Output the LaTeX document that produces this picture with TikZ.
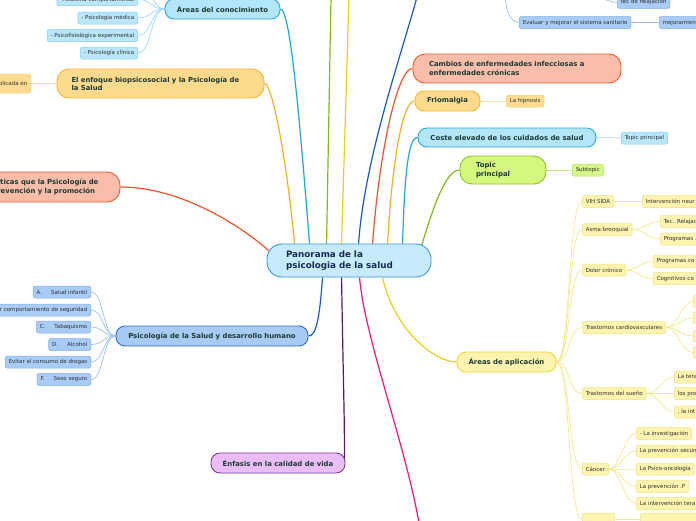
\documentclass[tikz,border=0pt]{standalone}
\usepackage{fontspec}
\setmainfont{DejaVu Sans}
\usetikzlibrary{calc,backgrounds}
\definecolor{cenF}{HTML}{C7EBFC}\definecolor{cenD}{HTML}{3A96D6}\definecolor{cenT}{HTML}{152C4E}
\definecolor{mainT}{HTML}{1C3A33}\definecolor{leafT}{HTML}{2E2E2E}
\definecolor{lbF}{HTML}{B3E5FB}\definecolor{lbD}{HTML}{2CA8E2}\definecolor{lbC}{HTML}{1FA5E6}
\definecolor{lblF}{HTML}{BAE6FB}\definecolor{lblD}{HTML}{84CFF3}\definecolor{lblC}{HTML}{9ED9F5}
\definecolor{orF}{HTML}{FEDB8C}\definecolor{orD}{HTML}{F8B632}\definecolor{orC}{HTML}{F9B121}
\definecolor{orlF}{HTML}{FEDC90}\definecolor{orlD}{HTML}{F9CE6A}\definecolor{orlC}{HTML}{FCE0A0}
\definecolor{saF}{HTML}{F9BDAA}\definecolor{saD}{HTML}{F2592B}\definecolor{saC}{HTML}{F2542A}
\definecolor{buF}{HTML}{A8CBF6}\definecolor{buD}{HTML}{2C6ED2}\definecolor{buC}{HTML}{1759CE}
\definecolor{bulF}{HTML}{A9CCF7}\definecolor{bulD}{HTML}{7FADEA}\definecolor{bulC}{HTML}{9DC1F1}
\definecolor{puF}{HTML}{EBBDF8}\definecolor{puD}{HTML}{7E3C8F}\definecolor{puC}{HTML}{5A1670}
\definecolor{yeF}{HTML}{FFF4AE}\definecolor{yeD}{HTML}{EED63A}\definecolor{yeC}{HTML}{E9D11B}
\definecolor{yelF}{HTML}{FFF4B0}\definecolor{yelD}{HTML}{F3E378}\definecolor{yelC}{HTML}{F6E88A}
\definecolor{grF}{HTML}{D4F77E}\definecolor{grD}{HTML}{8DC422}\definecolor{grC}{HTML}{82BA1A}
\definecolor{grlF}{HTML}{D6F78A}\definecolor{grlD}{HTML}{B6DE5C}\definecolor{grlC}{HTML}{C6E68E}
\definecolor{maC}{HTML}{EE1A79}
\newcommand\myfmain{\bfseries\fontsize{6.9}{8.2}\selectfont}
\newcommand\myfleaf{\fontsize{5.5}{6.5}\selectfont}
\newcommand\myfcen{\bfseries\fontsize{8.8}{11}\selectfont}
\begin{document}
\begin{tikzpicture}[x=1pt,y=-1pt,
  topicbox/.style={draw, line width=0.9pt, rounded corners=9pt, font=\myfmain, text=mainT, inner sep=0pt, align=center},
  leafbox/.style={draw, line width=0.5pt, rounded corners=2pt, font=\myfleaf, text=leafT, inner xsep=3.5pt, inner ysep=0pt, minimum height=12pt},
  cutr/.style={text width=#1, align=left},
  cnx/.style={line width=1.2pt, draw=#1},
  lcx/.style={line width=0.7pt, draw=#1},
  lbT/.style={fill=lbF, draw=lbD}, lbl/.style={fill=lblF, draw=lblD},
  orT/.style={fill=orF, draw=orD}, orl/.style={fill=orlF, draw=orlD},
  saT/.style={fill=saF, draw=saD},
  buT/.style={fill=buF, draw=buD}, bul/.style={fill=bulF, draw=bulD},
  puT/.style={fill=puF, draw=puD},
  yeT/.style={fill=yeF, draw=yeD}, yel/.style={fill=yelF, draw=yelD},
  grT/.style={fill=grF, draw=grD}, grl/.style={fill=grlF, draw=grlD}]
\useasboundingbox (0,0) rectangle (696,520);

% central
\node[draw=cenD, fill=cenF, line width=0.9pt, rounded corners=15pt, minimum width=164pt, minimum height=33pt,
      text width=126pt, align=left, inner sep=0pt, font=\myfcen, text=cenT] (cen) at (349,260.5)
      {Panorama de la\\psicologia de la salud};

% main topics
\node[topicbox, lbT, minimum width=115pt, minimum height=20pt] (areas) at (222.5,9) {Áreas del conocimiento};
\node[topicbox, orT, minimum width=207pt, minimum height=29pt, rounded corners=12pt, text width=178pt, align=left] (enfoque) at (160.5,83.5) {El enfoque biopsicosocial y la Psicología de\\la Salud};
\node[topicbox, saT, minimum width=152pt, minimum height=30pt, rounded corners=13pt, text width=122pt, align=left] (practicas) at (44,187) {Prácticas que la Psicología de\\la prevención y la promoción};
\node[topicbox, buT, minimum width=192pt, minimum height=20pt] (desarrollo) at (212,336) {Psicología de la Salud y desarrollo humano};
\node[topicbox, puT, minimum width=134pt, minimum height=20pt] (enfasis) at (278,463) {Énfasis en la calidad de vida};
\node[topicbox, yeT, minimum width=99pt, minimum height=20pt] (aplic) at (506.5,362) {Áreas de aplicación};
\node[topicbox, grT, minimum width=86pt, minimum height=28pt, rounded corners=12pt, text width=54pt, align=left] (topic) at (503,170) {Topic\\principal};
\node[topicbox, lbT, minimum width=178pt, minimum height=19pt] (coste) at (507,137.5) {Coste elevado de los cuidados de salud};
\node[topicbox, orT, minimum width=65pt, minimum height=20pt] (frio) at (447.5,101) {Friomalgia};
\node[topicbox, saT, minimum width=208pt, minimum height=29pt, rounded corners=12pt, text width=176pt, align=left] (cambios) at (517,68.5) {Cambios de enfermedades infecciosas a\\enfermedades crónicas};

% free ends of topics outside the picture
\coordinate (gtop) at (331,-3);
\coordinate (ytop) at (349,-3);
\coordinate (dtop) at (417,-3);
\coordinate (mbot) at (419,523);
\coordinate (dbpar) at (505,-12);
\coordinate (ac0) at (138,-18);

% leaves of Áreas del conocimiento
\node[leafbox, lbl, anchor=east] (ac1) at (138,-0.5) {-Medicina comportamental};
\node[leafbox, lbl, anchor=east] (ac2) at (138,18) {- Psicología médica};
\node[leafbox, lbl, anchor=east] (ac3) at (138,35.5) {- Psicofisiológica experimental};
\node[leafbox, lbl, anchor=east] (ac4) at (138,53) {- Psicología clínica};

% leaf of enfoque
\node[leafbox, orl, anchor=east, minimum height=19pt] (apl) at (31,83.5) {Aplicada en};

% leaves of desarrollo
\node[leafbox, bul, anchor=east] (b1) at (91,292) {A.\hspace{9pt}Salud infantil};
\node[leafbox, bul, anchor=east] (b2) at (91,310) {Promover comportamiento de seguridad};
\node[leafbox, bul, anchor=east] (b3) at (91,327) {C.\hspace{9pt}Tabaquismo};
\node[leafbox, bul, anchor=east] (b4) at (91,344.5) {D.\hspace{9pt}Alcohol};
\node[leafbox, bul, anchor=east] (b5) at (91,362) {Evitar el consumo de drogas};
\node[leafbox, bul, anchor=east] (b6) at (91,379.5) {F.\hspace{9pt}Sexo seguro};

% top right blue group
\node[leafbox, bul, anchor=west, minimum width=62pt] (sliver) at (519,-7) {};
\node[leafbox, bul, anchor=west] (tec) at (617,2.3) {tec de relajacion};
\node[leafbox, bul, anchor=west] (evalua) at (519,22.5) {Evaluar y mejorar el sistema sanitario};
\node[leafbox, bul, anchor=west, cutr=50pt] (mejora) at (659,22.5) {mejoramien};

% simple leaves
\node[leafbox, orl, anchor=west] (hip) at (506,101) {La hipnosis};
\node[leafbox, lbl, anchor=west] (tp) at (621,138) {Topic principal};
\node[leafbox, grl, anchor=west] (sub) at (572,170) {Subtopic};

% yellow group
\node[leafbox, yel, anchor=west] (y1) at (582,201.5) {VIH SIDA};
\node[leafbox, yel, anchor=west] (y2) at (582,229.5) {Asma bronquial};
\node[leafbox, yel, anchor=west] (y3) at (582,270) {Dolor crónico};
\node[leafbox, yel, anchor=west] (y4) at (582,327.5) {Trastornos cardiovasculares};
\node[leafbox, yel, anchor=west] (y5) at (582,393.5) {Trastornos del sueño};
\node[leafbox, yel, anchor=west] (y6) at (582,469) {Cáncer};
\node[leafbox, yel, anchor=west, minimum width=32pt] (y7) at (582,519) {};

\node[leafbox, yel, anchor=west, cutr=70pt] (y11) at (642,201.5) {Intervención neur};
\node[leafbox, yel, anchor=west, cutr=50pt] (y21) at (660,221.5) {Tec. Relajac};
\node[leafbox, yel, anchor=west, cutr=50pt] (y22) at (660,239) {Programas .};
\node[leafbox, yel, anchor=west, cutr=55pt] (y31) at (653,261.5) {Programas co};
\node[leafbox, yel, anchor=west, cutr=55pt] (y32) at (653,278.5) {Cognitivos co};
\node[leafbox, yel, anchor=west, minimum width=30pt] (y41) at (693,301.5) {};
\node[leafbox, yel, anchor=west, minimum width=30pt] (y42) at (693,318) {};
\node[leafbox, yel, anchor=west, minimum width=30pt] (y43) at (693,336) {};
\node[leafbox, yel, anchor=west, minimum width=30pt] (y44) at (693,352.5) {};
\node[leafbox, yel, anchor=west, cutr=40pt] (y51) at (674,377) {La tera};
\node[leafbox, yel, anchor=west, cutr=40pt] (y52) at (674,393.5) {los pro};
\node[leafbox, yel, anchor=west, cutr=40pt] (y53) at (674,412) {, la int};
\node[leafbox, yel, anchor=west] (y61) at (636,433.5) {- La investigación};
\node[leafbox, yel, anchor=west, cutr=70pt] (y62) at (636,451) {La prevención secun};
\node[leafbox, yel, anchor=west] (y63) at (636,469) {La Psico-oncología};
\node[leafbox, yel, anchor=west] (y64) at (636,486.5) {La prevención .P};
\node[leafbox, yel, anchor=west, cutr=70pt] (y65) at (636,503.5) {La intervención tera};
\node[leafbox, yel, anchor=west, minimum width=60pt] (y71) at (640,519) {};

\begin{scope}[on background layer]
\fill[white] (0,0) rectangle (696,520);
% main connectors
\draw[cnx=lbC] ($(cen.north west)+(43,0)$) .. controls +(-10,-124) and +(10,0) .. (areas.east);
\draw[cnx=orC] ($(cen.north west)+(28,0)$) .. controls +(-8,-84) and +(8,0) .. (enfoque.east);
\draw[cnx=saC] ($(cen.west)+(2,-10)$) .. controls +(-28,-25) and +(60,0) .. (practicas.east);
\draw[cnx=buC] ($(cen.south west)+(56,0)$) .. controls +(-3,40) and +(8,0) .. (desarrollo.east);
\draw[cnx=puC] ($(cen.south west)+(75,0)$) .. controls +(2,120) and +(0,-50) .. ($(enfasis.east)+(-1,-4)$);
\draw[cnx=maC] ($(cen.south west)+(93,0)$) .. controls +(5,60) and +(-14,-80) .. (mbot);
\draw[cnx=yeC] ($(cen.south west)+(116,0)$) .. controls +(12,53) and +(-22,0) .. (aplic.west);
\draw[cnx=grC] ($(cen.north west)+(60,0)$) -- (gtop);
\draw[cnx=yeC] ($(cen.north west)+(75,0)$) -- (ytop);
\draw[cnx=buC] ($(cen.north west)+(92,0)$) .. controls +(6,-84) and +(-17,62) .. (dtop);
\draw[cnx=saC] ($(cen.north west)+(106,0)$) .. controls +(7,-94) and +(-15,0) .. (cambios.west);
\draw[cnx=orC] ($(cen.north west)+(121,0)$) .. controls +(4,-74) and +(-13,0) .. (frio.west);
\draw[cnx=lbC] ($(cen.north west)+(136,0)$) .. controls +(2,-64) and +(-10,0) .. (coste.west);
\draw[cnx=grC] ($(cen.north west)+(155,2)$) .. controls +(10,-32) and +(-15,0) .. (topic.west);

% leaf connectors
\foreach \n in {ac1,ac2,ac3,ac4}
  \draw[lcx=lblC] (areas.west) .. controls +(-14,0) and +(14,0) .. (\n.east);
\draw[lcx=lblC] (areas.west) .. controls +(-14,0) and +(14,0) .. (ac0);
\draw[lcx=orlC] (enfoque.west) -- (apl.east);
\foreach \n in {b1,b2,b3,b4,b5,b6}
  \draw[lcx=bulC] (desarrollo.west) .. controls +(-13,0) and +(13,0) .. (\n.east);
\draw[lcx=bulC] (dbpar) .. controls +(0,20) and +(-10,0) .. (evalua.west);
\draw[lcx=bulC] (dbpar) .. controls +(0,5) and +(-8,0) .. (sliver.west);
\draw[lcx=bulC] (sliver.east) .. controls +(16,0) and +(-12,0) .. (tec.west);
\draw[lcx=bulC] (evalua.east) -- (mejora.west);
\draw[lcx=orlC] (frio.east) -- (hip.west);
\draw[lcx=lblC] (coste.east) -- (tp.west);
\draw[lcx=grlC] (topic.east) -- (sub.west);
\foreach \n in {y1,y2,y3,y4,y5,y6,y7}
  \draw[lcx=yelC] (aplic.east) .. controls +(14,0) and +(-14,0) .. (\n.west);
\draw[lcx=yelC] (y1.east) -- (y11.west);
\foreach \n in {y21,y22} \draw[lcx=yelC] (y2.east) .. controls +(12,0) and +(-12,0) .. (\n.west);
\foreach \n in {y31,y32} \draw[lcx=yelC] (y3.east) .. controls +(12,0) and +(-12,0) .. (\n.west);
\foreach \n in {y41,y42,y43,y44} \draw[lcx=yelC] (y4.east) .. controls +(12,0) and +(-12,0) .. (\n.west);
\foreach \n in {y51,y52,y53} \draw[lcx=yelC] (y5.east) .. controls +(12,0) and +(-12,0) .. (\n.west);
\foreach \n in {y61,y62,y63,y64,y65} \draw[lcx=yelC] (y6.east) .. controls +(12,0) and +(-12,0) .. (\n.west);
\draw[lcx=yelC] (y7.east) -- (y71.west);
\end{scope}
\end{tikzpicture}
\end{document}
